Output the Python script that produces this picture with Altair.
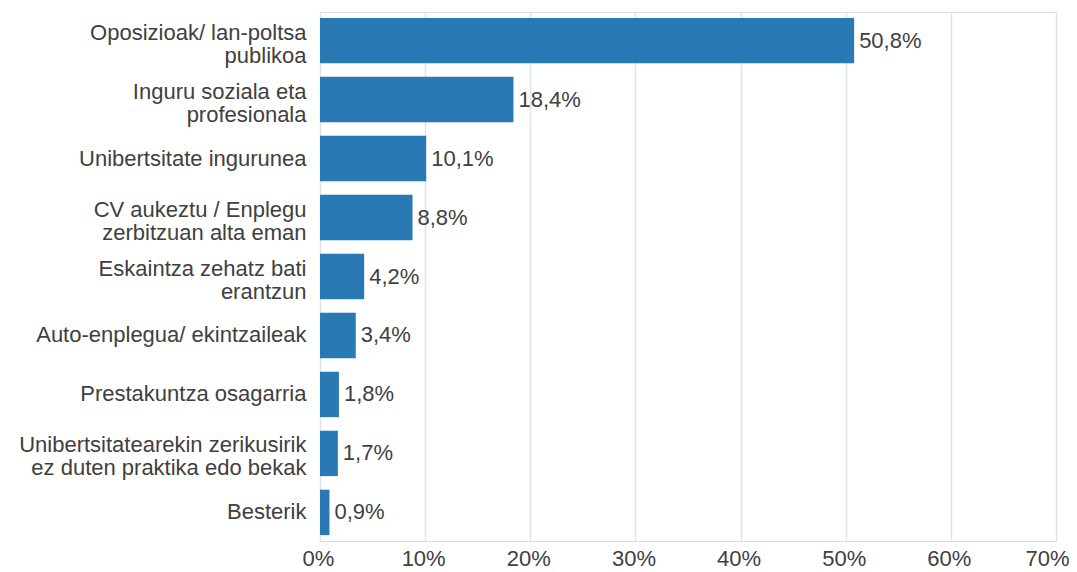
import altair as alt
import pandas as pd

categories = [
    "Oposizioak/ lan-poltsa|publikoa",
    "Inguru soziala eta|profesionala",
    "Unibertsitate ingurunea",
    "CV aukeztu / Enplegu|zerbitzuan alta eman",
    "Eskaintza zehatz bati|erantzun",
    "Auto-enplegua/ ekintzaileak",
    "Prestakuntza osagarria",
    "Unibertsitatearekin zerikusirik|ez duten praktika edo bekak",
    "Besterik",
]
values = [50.8, 18.4, 10.1, 8.8, 4.2, 3.4, 1.8, 1.7, 0.9]

df = pd.DataFrame({"cat": categories, "value": values})

FONT = "Liberation Sans"
TXT = "#404040"

y_enc = alt.Y(
    "cat:N",
    sort=categories,
    title=None,
    scale=alt.Scale(paddingInner=0.23, paddingOuter=0.1),
    axis=alt.Axis(
        labelExpr="split(datum.label, '|')",
        labelFontSize=22,
        labelFont=FONT,
        labelColor=TXT,
        labelPadding=14,
        labelLineHeight=23,
        labelOffset={"condition": {"test": "indexof(datum.label, '|') >= 0", "value": -8}, "value": 0},
        ticks=False,
        domain=False,
        grid=False,
        labelLimit=400,
    ),
)

x_enc = alt.X(
    "value:Q",
    title=None,
    scale=alt.Scale(domain=[0, 70], nice=False),
    axis=alt.Axis(
        values=[0, 10, 20, 30, 40, 50, 60, 70],
        labelExpr="datum.value + '%'",
        labelFontSize=22,
        labelFont=FONT,
        labelColor=TXT,
        labelPadding=7,
        labelOffset={"condition": {"test": "datum.value == 70", "value": -9}, "value": -2},
        labelFlush=False,
        ticks=False,
        domain=False,
        grid=True,
        gridColor="#dde3ea",
        gridWidth=1.5,
    ),
)

bars = alt.Chart(df).mark_bar(color="#2979b5").encode(x=x_enc, y=y_enc)

text = (
    alt.Chart(df)
    .transform_calculate(lbl="replace(format(datum.value, '.1f'), '.', ',') + '%'")
    .mark_text(align="left", baseline="middle", dx=5, fontSize=22, font=FONT, color=TXT)
    .encode(x="value:Q", y=alt.Y("cat:N", sort=categories), text="lbl:N")
)

chart = (
    alt.layer(bars, text)
    .properties(
        width=736,
        height=529,
        autosize=alt.AutoSizeParams(type="none"),
        padding={"left": 312, "top": 4, "right": 13, "bottom": 30},
    )
    .configure_view(stroke=None)
    .configure(background="white")
)

chart.save("out.html", embed_options={"renderer": "svg", "actions": False})
